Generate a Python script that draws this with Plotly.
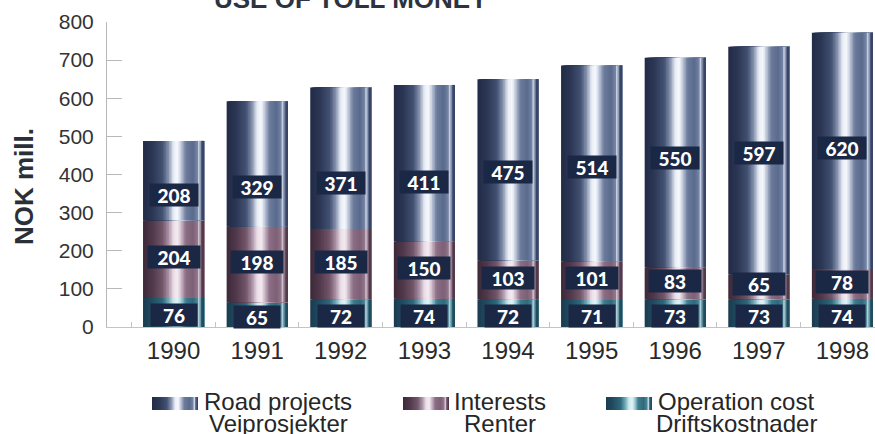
import base64
import plotly.graph_objects as go

# ---- data -------------------------------------------------------------
years = ["1990", "1991", "1992", "1993", "1994", "1995", "1996", "1997", "1998"]
operation_cost = [76, 65, 72, 74, 72, 71, 73, 73, 74]
interests = [204, 198, 185, 150, 103, 101, 83, 65, 78]
road_projects = [208, 329, 371, 411, 475, 514, 550, 597, 620]

y_ticks = [0, 100, 200, 300, 400, 500, 600, 700, 800]

# heights (NOK mill.) where the road-project value boxes sit
road_label_at = [346, 367, 378, 380, 407, 420, 443, 456, 470]

# ---- styling ------------------------------------------------------------
W, H = 875, 434
M_L, M_R, M_T, M_B = 107, 0, 22, 107
PLOT_W = W - M_L - M_R
PLOT_H = H - M_T - M_B

BAR_W = 0.73
N_SLICES = 40

# horizontal "metal cylinder" shading, (position across bar, colour)
road_shade = [
    (0.00, "#222c47"), (0.15, "#2b3654"), (0.32, "#435172"), (0.42, "#8794b0"),
    (0.50, "#e9eef6"), (0.57, "#f6f8fc"), (0.63, "#b9c3d6"), (0.70, "#6d7c9c"),
    (0.82, "#5a6a8d"), (0.89, "#7585a5"), (0.92, "#dfe5ef"), (0.95, "#56658a"),
    (1.00, "#2f3b5a"),
]
interest_shade = [
    (0.00, "#3d2939"), (0.15, "#4f384a"), (0.32, "#735669"), (0.42, "#ab93a7"),
    (0.50, "#ecdfe9"), (0.57, "#f4ebf1"), (0.63, "#c8b3c3"), (0.70, "#8b6e84"),
    (0.82, "#7d6076"), (0.89, "#92778d"), (0.92, "#e3d6e0"), (0.95, "#715569"),
    (1.00, "#46323f"),
]
operation_shade = [
    (0.00, "#1b3b4f"), (0.15, "#214c61"), (0.32, "#2f697b"), (0.42, "#72aab8"),
    (0.50, "#cfe9ef"), (0.57, "#e1f2f6"), (0.63, "#9ccbd6"), (0.70, "#3d7c8e"),
    (0.82, "#30697b"), (0.89, "#4b8697"), (0.92, "#cfe7ee"), (0.95, "#2d6375"),
    (1.00, "#1c4558"),
]

LABEL_BG = "#1b2845"


def hex_rgb(h):
    h = h.lstrip("#")
    return tuple(int(h[i:i + 2], 16) for i in (0, 2, 4))


def shade_at(stops, t):
    for (t0, c0), (t1, c1) in zip(stops, stops[1:]):
        if t0 <= t <= t1:
            f = 0 if t1 == t0 else (t - t0) / (t1 - t0)
            a, b = hex_rgb(c0), hex_rgb(c1)
            return "rgb({},{},{})".format(*[round(a[k] + (b[k] - a[k]) * f) for k in range(3)])
    return stops[-1][1]


def swatch_uri(stops):
    grad = "".join(f'<stop offset="{t}" stop-color="{c}"/>' for t, c in stops)
    svg = (
        '<svg xmlns="http://www.w3.org/2000/svg" width="46" height="13" preserveAspectRatio="none">'
        f'<defs><linearGradient id="g" x1="0" x2="1" y1="0" y2="0">{grad}</linearGradient></defs>'
        '<rect width="46" height="13" fill="url(#g)"/></svg>'
    )
    return "data:image/svg+xml;base64," + base64.b64encode(svg.encode()).decode()


def px_x(px):
    return (px - M_L) / PLOT_W


def px_y(py):
    return (H - M_B - py) / PLOT_H


fig = go.Figure()

series = [
    ("Operation cost", operation_cost, operation_shade),
    ("Interests", interests, interest_shade),
    ("Road projects", road_projects, road_shade),
]

base = [0] * len(years)
bases = []
for name, vals, stops in series:
    bases.append(list(base))
    # each bar is painted as narrow vertical slices, left to right, to get the shading
    for i in range(N_SLICES):
        t = (i + 0.5) / N_SLICES
        fig.add_trace(go.Bar(
            x=years, y=vals, base=base,
            offset=-BAR_W / 2 + i * BAR_W / N_SLICES,
            width=BAR_W * (1 - i / N_SLICES),
            marker=dict(color=shade_at(stops, t), line=dict(width=0)),
            name=name, showlegend=False, hoverinfo="skip",
        ))
    base = [b + v for b, v in zip(base, vals)]

# value boxes (x given as category index)
label_font = dict(family="Lato, Open Sans, sans-serif", size=19, color="white", weight=900)
op_base, int_base, road_base = bases
for k in range(len(years)):
    rows = [
        (operation_cost[k], op_base[k] + operation_cost[k] / 2 - 7, 44),
        (interests[k], int_base[k] + interests[k] / 2 + 6, 50),
        (road_projects[k], road_label_at[k], 46),
    ]
    for val, ypos, bw in rows:
        fig.add_annotation(
            x=k, y=ypos, xref="x", yref="y", text=str(val), showarrow=False,
            font=label_font, bgcolor=LABEL_BG, width=bw, height=20, borderpad=1,
            xanchor="center", yanchor="middle",
        )

# title (runs off the top edge)
fig.add_annotation(
    x=px_x(351), y=px_y(-1), xref="paper", yref="paper",
    text="<b>USE OF TOLL MONEY</b>", showarrow=False,
    font=dict(family="Liberation Sans, Arial, sans-serif", size=26, color="#2b3440"),
    xanchor="center", yanchor="middle",
)

# y-axis title
fig.add_annotation(
    x=px_x(24), y=px_y(187), xref="paper", yref="paper",
    text="<b>NOK mill.</b>", textangle=-90, showarrow=False,
    font=dict(family="Liberation Sans, Arial, sans-serif", size=26, color="#2a2f38"),
    xanchor="center", yanchor="middle",
)

# legend: swatches + two-line captions
legend_items = [
    (road_shade, 152, 278, "Road projects", "Veiprosjekter"),
    (interest_shade, 403, 500, "Interests", "Renter"),
    (operation_shade, 606, 736, "Operation cost", "Driftskostnader"),
]
leg_font = dict(family="Liberation Sans, Arial, sans-serif", size=24, color="#262626")
for stops, sx, tx, line1, line2 in legend_items:
    fig.add_layout_image(
        source=swatch_uri(stops), xref="paper", yref="paper",
        x=px_x(sx), y=px_y(397), sizex=46 / PLOT_W, sizey=13 / PLOT_H,
        xanchor="left", yanchor="top", sizing="stretch", layer="above",
    )
    fig.add_annotation(x=px_x(tx), y=px_y(401), xref="paper", yref="paper",
                       text=line1, showarrow=False, font=leg_font,
                       xanchor="center", yanchor="middle")
    fig.add_annotation(x=px_x(tx), y=px_y(423), xref="paper", yref="paper",
                       text=line2, showarrow=False, font=leg_font,
                       xanchor="center", yanchor="middle")

fig.update_layout(
    width=W, height=H,
    margin=dict(l=M_L, r=M_R, t=M_T, b=M_B),
    barmode="overlay",
    plot_bgcolor="white", paper_bgcolor="white",
    showlegend=False,
    font=dict(family="Liberation Sans, Arial, sans-serif"),
)
fig.update_xaxes(
    type="category", range=[-0.796, 8.39],
    showline=True, linecolor="#c4c4c4", linewidth=1,
    ticks="inside", tickson="boundaries", ticklen=5, tickcolor="#c4c4c4",
    tickfont=dict(size=24, color="#2a2a2a"), ticklabelstandoff=2,
    showgrid=False, zeroline=False, fixedrange=True,
)
fig.update_yaxes(
    range=[0, 800], tickvals=y_ticks,
    showline=True, linecolor="#b8b8b8", linewidth=1,
    ticks="inside", ticklen=15, tickcolor="#b8b8b8",
    tickfont=dict(size=21, color="#333333"), ticklabelstandoff=8,
    showgrid=False, zeroline=False, fixedrange=True,
)

fig.write_html("out.html")
